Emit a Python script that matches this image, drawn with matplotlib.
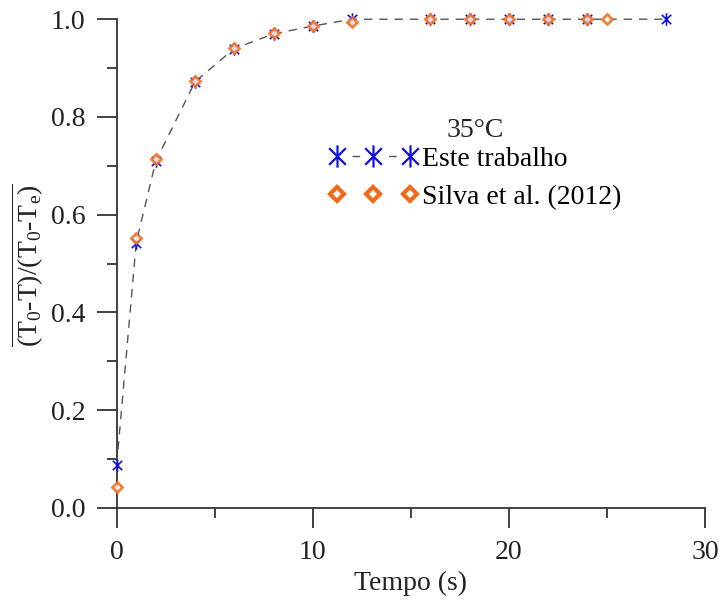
import matplotlib
matplotlib.use("Agg")
import matplotlib.pyplot as plt
from matplotlib.path import Path
from matplotlib.ticker import MultipleLocator, FormatStrFormatter

x_este = [0, 1, 2, 4, 6, 8, 10, 12, 16, 18, 20, 22, 24, 28]
y_este = [0.088, 0.543, 0.710, 0.872, 0.940, 0.970, 0.986, 1.0, 1.0, 1.0, 1.0, 1.0, 1.0, 1.0]
x_silva = [0, 1, 2, 4, 6, 8, 10, 12, 16, 18, 20, 22, 24, 25]
y_silva = [0.043, 0.553, 0.714, 0.873, 0.942, 0.971, 0.987, 0.995, 1.0, 1.0, 1.0, 1.0, 1.0, 1.0]

legend_title = "35°C"
labels = ["Este trabalho", "Silva et al. (2012)"]
xlabel = "Tempo (s)"

plt.rcParams['font.family'] = ['Liberation Serif', 'DejaVu Serif']
plt.rcParams['mathtext.fontset'] = 'custom'
plt.rcParams['mathtext.rm'] = 'Liberation Serif'
plt.rcParams['mathtext.it'] = 'Liberation Serif:italic'
plt.rcParams['font.size'] = 20

star = Path([(0, -1), (0, 1), (-0.75, -0.75), (0.75, 0.75), (-0.75, 0.75), (0.75, -0.75)],
            [Path.MOVETO, Path.LINETO, Path.MOVETO, Path.LINETO, Path.MOVETO, Path.LINETO])

fig = plt.figure(figsize=(7.2, 6.01), dpi=100)
ax = fig.add_axes([0.162, 0.155, 0.817, 0.813])

blue = '#1010e0'
orange = '#f06a1a'
ax.plot(x_este, y_este, linestyle=(0, (6, 5)), color='#555555', lw=1.0,
        marker=star, ms=9, mec=blue, mew=1.2, mfc='none', clip_on=False,
        label=labels[0], zorder=3)
ax.plot(x_silva, y_silva, linestyle='none', marker='D', ms=5, mec=orange, mew=2.0,
        mfc='white', clip_on=False, label=labels[1], zorder=4, alpha=0.85)

ax.set_xlim(0, 30)
ax.set_ylim(0, 1.0)
ax.xaxis.set_major_locator(MultipleLocator(10))
ax.xaxis.set_minor_locator(MultipleLocator(5))
ax.yaxis.set_major_locator(MultipleLocator(0.2))
ax.yaxis.set_minor_locator(MultipleLocator(0.1))
ax.yaxis.set_major_formatter(FormatStrFormatter('%.1f'))

for s in ['top', 'right']:
    ax.spines[s].set_visible(False)
for s in ['left', 'bottom']:
    ax.spines[s].set_color('#333333')
    ax.spines[s].set_linewidth(1.3)
ax.tick_params(which='major', direction='out', length=14.4, width=1.3, color='#333333',
               labelsize=20, labelcolor='#222222')
ax.tick_params(axis='y', which='major', pad=8)
ax.tick_params(axis='x', which='major', pad=9)
ax.tick_params(which='minor', direction='out', length=7.2, width=1.3, color='#333333')

ax.set_xlabel(xlabel, fontsize=20, labelpad=4, color='#222222')
fig.text(0.038, 1 - 265 / 601,
         r'$\overline{\mathrm{(T_0}\text{-}\mathrm{T)/(T_0}\text{-}\mathrm{T_e)}}$',
         rotation=90, ha='center', va='center', fontsize=20, color='#222222')

leg = ax.legend(title=legend_title, loc='upper left', bbox_to_anchor=(0.327, 0.837),
                numpoints=3, markerscale=1.0, frameon=False, handlelength=3.22,
                handletextpad=0.15, labelspacing=0.47, borderpad=0.2, fontsize=20,
                title_fontsize=20)
leg.get_title().set_color('#222222')
leg._legend_box.sep = 2
h_este, h_silva = leg.legend_handles
h_este.set_markersize(16)
h_este.set_markeredgewidth(1.6)
h_este.set_linestyle((15.5, (5.5, 20.8)))
h_silva.set_markersize(7.5)
h_silva.set_markeredgewidth(3.0)
h_silva.set_alpha(1.0)

fig.savefig('out.png', dpi=100)
